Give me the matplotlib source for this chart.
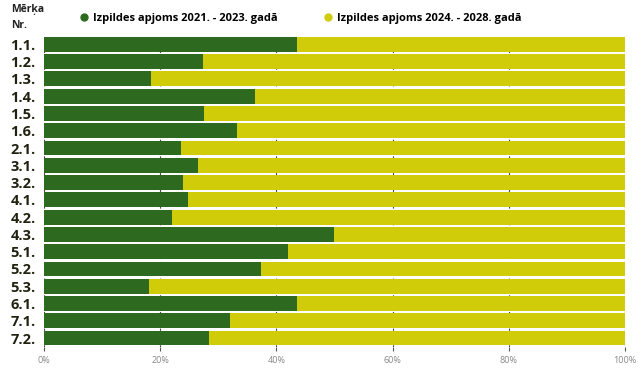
import matplotlib.pyplot as plt
from matplotlib.ticker import PercentFormatter
from matplotlib.lines import Line2D

# measure ids and share done in 2021-2023 (rest is 2024-2028)
categories = ["1.1.", "1.2.", "1.3.", "1.4.", "1.5.", "1.6.", "2.1.", "3.1.", "3.2.",
              "4.1.", "4.2.", "4.3.", "5.1.", "5.2.", "5.3.", "6.1.", "7.1.", "7.2."]
share_2021_2023 = [0.435, 0.274, 0.184, 0.363, 0.275, 0.332, 0.236, 0.265, 0.239,
                   0.248, 0.220, 0.499, 0.420, 0.373, 0.181, 0.435, 0.320, 0.284]
share_2024_2028 = [1 - v for v in share_2021_2023]
series_names = ["Izpildes apjoms 2021. - 2023. gadā", "Izpildes apjoms 2024. - 2028. gadā"]
x_ticks = [0, 0.2, 0.4, 0.6, 0.8, 1.0]

green = "#2d6a1f"
yellow = "#d0cc0a"

plt.rcParams["font.family"] = ["Open Sans", "DejaVu Sans"]

fig = plt.figure(figsize=(6.43, 3.72), dpi=100)
ax = fig.add_axes([0.0684, 0.068, 0.9036, 0.836])

ypos = list(range(len(categories)))
ax.barh(ypos, share_2021_2023, height=0.86, color=green, zorder=3)
ax.barh(ypos, share_2024_2028, left=share_2021_2023, height=0.86, color=yellow, zorder=3)

ax.set_ylim(len(categories) - 0.5, -0.5)
ax.set_xlim(0, 1)
ax.set_yticks(ypos)
ax.set_yticklabels(categories, fontsize=10.5, fontweight="bold", color="#222211")
ax.set_xticks(x_ticks)
ax.xaxis.set_major_formatter(PercentFormatter(1.0, decimals=0))
ax.tick_params(axis="x", labelsize=6.5, labelcolor="#888888", length=3, color="#555555", pad=4)
ax.tick_params(axis="y", length=0, pad=6)
for s in ax.spines.values():
    s.set_visible(False)
ax.grid(axis="x", color="#444444", linestyle=(0, (2, 3)), linewidth=0.8, zorder=0)

fig.text(0.018, 0.99, "Mērķa\nNr.", fontsize=7.5, fontweight="bold", color="#222222",
         va="top", ha="left", linespacing=1.6)

handles = [Line2D([], [], marker="o", linestyle="", color=c, markersize=5) for c in (green, yellow)]
fig.legend(handles, series_names, loc="upper left", bbox_to_anchor=(0.103, 0.992), ncol=2,
           frameon=False, handletextpad=0.15, columnspacing=3.75, handlelength=1.4,
           prop={"weight": "bold", "size": 8})

fig.savefig("out.png", dpi=100)
